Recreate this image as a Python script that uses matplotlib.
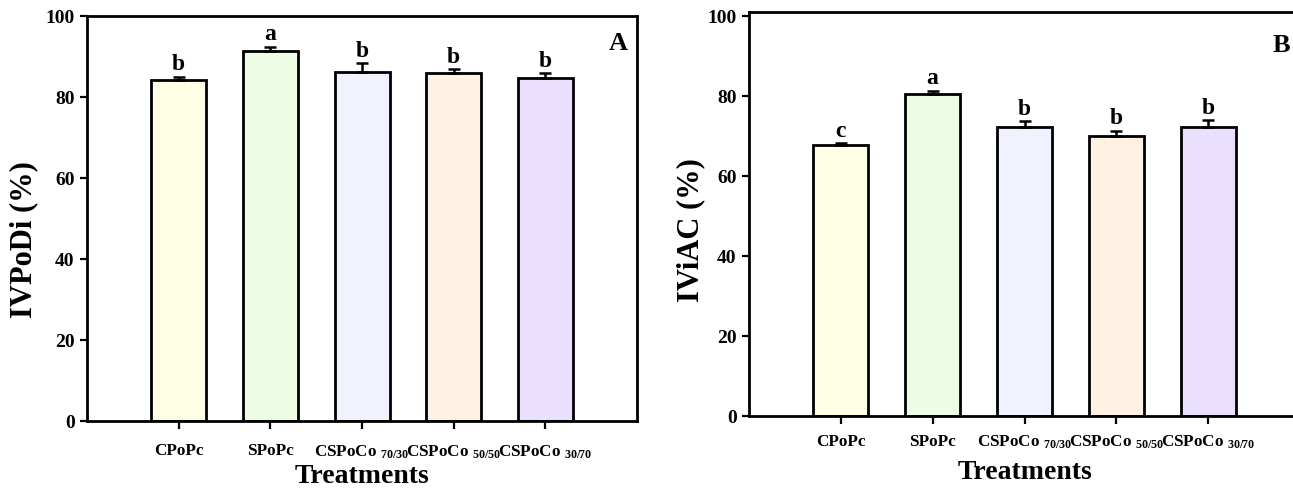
import matplotlib
matplotlib.use("Agg")
import matplotlib.pyplot as plt
import numpy as np

plt.rcParams['font.family'] = ['Liberation Serif', 'DejaVu Serif']
plt.rcParams['font.weight'] = 'bold'
plt.rcParams['mathtext.fontset'] = 'custom'
plt.rcParams['mathtext.rm'] = 'Liberation Serif:bold'
plt.rcParams['mathtext.bf'] = 'Liberation Serif:bold'
plt.rcParams['mathtext.it'] = 'Liberation Serif:bold'
plt.rcParams['mathtext.default'] = 'bf'

# data
treatments = ['CPoPc', 'SPoPc', 'CSPoCo $_{70/30}$', 'CSPoCo $_{50/50}$', 'CSPoCo $_{30/70}$']
bar_colors = ['#FFFFE6', '#EDFDE3', '#F0F2FF', '#FFF2E3', '#EADFFF']

ivpodi = [84.1, 91.3, 86.3, 85.9, 84.8]
ivpodi_err = [0.9, 1.1, 2.0, 1.0, 1.1]
ivpodi_letters = ['b', 'a', 'b', 'b', 'b']

iviac = [67.8, 80.4, 72.3, 70.1, 72.3]
iviac_err = [0.4, 0.9, 1.4, 1.2, 1.7]
iviac_letters = ['c', 'a', 'b', 'b', 'b']


def draw_panel(ax, values, errs, letters, ylabel, ylabel_xy, tag, tag_xy, ytop, tick_pad, xlabel_pad):
    x = np.arange(1, len(values) + 1)
    ax.bar(x, values, width=0.6, color=bar_colors, edgecolor='black', linewidth=2, zorder=2)
    ax.errorbar(x, values, yerr=[np.zeros(len(errs)), errs], fmt='none', ecolor='black',
                elinewidth=1.8, capsize=4, capthick=1.8, zorder=3)
    for xi, v, e, s in zip(x, values, errs, letters):
        ax.annotate(s, (xi, v + e), xytext=(0, 1), textcoords='offset points',
                    ha='center', va='bottom', fontsize=17, fontweight='bold')
    ax.set_xlim(0, 6)
    ax.set_ylim(0, ytop)
    ax.set_yticks([0, 20, 40, 60, 80, 100])
    ax.set_xticks(x)
    ax.set_xticklabels(treatments)
    ax.tick_params(axis='x', direction='out', length=6, width=1.6, labelsize=12.3, pad=tick_pad)
    ax.tick_params(axis='y', direction='out', length=5, width=1.6, labelsize=14, pad=4)
    for sp in ax.spines.values():
        sp.set_linewidth(2)
    ax.set_ylabel(ylabel, fontsize=22, fontweight='bold')
    ax.yaxis.set_label_coords(*ylabel_xy)
    ax.set_xlabel('Treatments', fontsize=20, fontweight='bold', labelpad=xlabel_pad)
    ax.text(tag_xy[0], tag_xy[1], tag, transform=ax.transAxes, ha='center', va='center',
            fontsize=19, fontweight='bold')


fig = plt.figure(figsize=(12.93, 4.9), dpi=100)
ax_a = fig.add_axes([0.0673, 0.1408, 0.4254, 0.8265])
ax_b = fig.add_axes([0.5793, 0.1510, 0.4261, 0.8245])

draw_panel(ax_a, ivpodi, ivpodi_err, ivpodi_letters, 'IVPoDi (%)', (-0.089, 0.449),
           'A', (0.966, 0.933), 100, 10, 2.5)
draw_panel(ax_b, iviac, iviac_err, iviac_letters, 'IViAC (%)', (-0.080, 0.46),
           'B', (0.966, 0.916), 101, 7, 6)

fig.savefig('out.png', dpi=100)
